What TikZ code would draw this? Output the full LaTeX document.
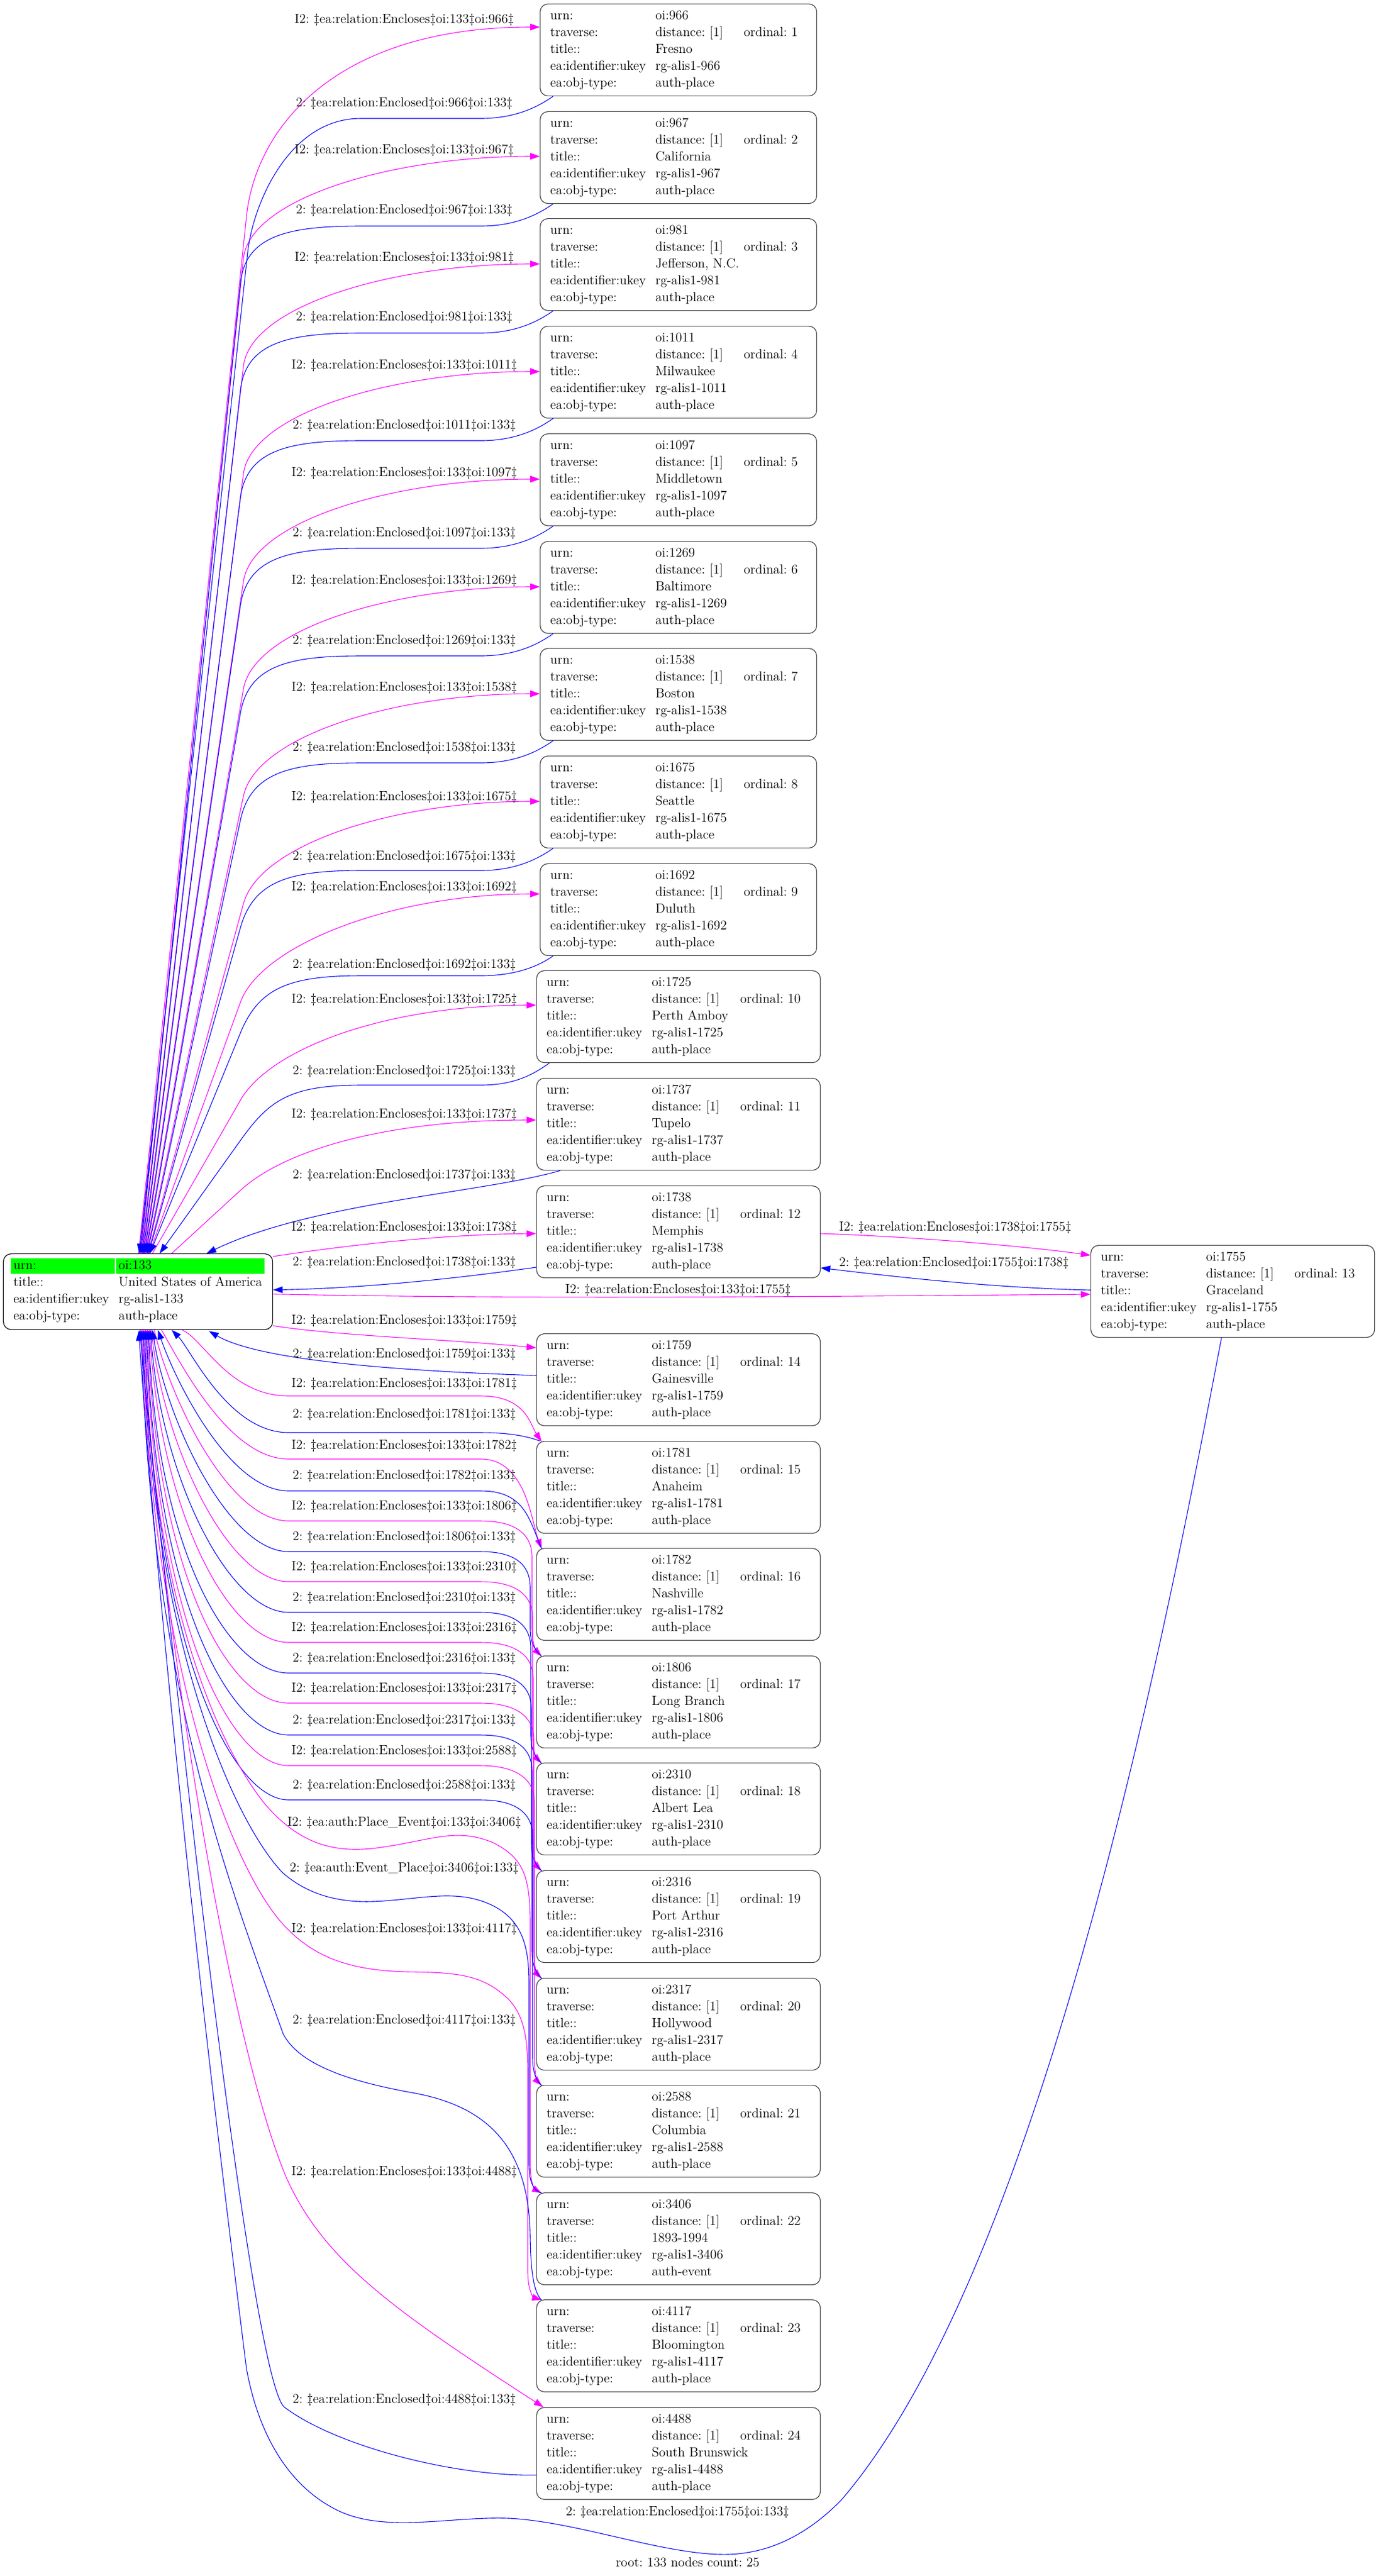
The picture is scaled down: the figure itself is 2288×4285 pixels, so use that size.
\documentclass[tikz,border=0pt]{standalone}
\usepackage{tikz}
\usetikzlibrary{arrows.meta,calc}
\definecolor{gvmag}{RGB}{255,0,255}
\definecolor{gvblue}{RGB}{0,0,255}
\definecolor{gvgreen}{RGB}{0,255,0}
\frenchspacing
\newcommand\fsz{\fontsize{11}{13}\selectfont\frenchspacing}
\newcommand\mkenc[2]{I2: \ddag ea:relation:Encloses\ddag oi:#1\ddag oi:#2\ddag}
\newcommand\mkencd[2]{2: \ddag ea:relation:Enclosed\ddag oi:#1\ddag oi:#2\ddag}
\tikzset{
 nbox/.style={draw=black!75, line width=0.6pt, rounded corners=6.5pt, inner sep=0pt, anchor=north west, minimum height=76.5pt},
 narrowbox/.style={nbox, minimum width=230pt},
 widebox/.style={nbox, minimum width=236pt},
 rootbox/.style={nbox, draw=black, minimum width=224pt, minimum height=63pt},
 txt/.style={anchor=base west, inner sep=0pt, font=\fsz},
 lbl/.style={inner sep=0pt, font=\fsz},
 mag/.style={draw=gvmag, line width=0.55pt, -{Triangle[length=8pt,width=5.5pt]}},
 blu/.style={draw=gvblue, line width=0.55pt, {Triangle[length=8pt,width=5.5pt]}-},
}
\newcommand\mkchild[9]{%
 \node[#2] (#1) at (#3,#4) {};
 \node[txt] (#1a) at ($(#1.north west)+(17,26)$) {urn:};
 \node[txt] (#1b) at ($(#1.north west)+(192,26)$) {#5};
 \node[txt] (#1c) at ($(#1.north west)+(17,54)$) {traverse:};
 \node[txt] (#1d) at ($(#1.north west)+(192,54)$) {distance: [1]};
 \node[txt] (#1e) at ($(#1.north west)+(339,54)$) {ordinal: #6};
 \node[txt] (#1f) at ($(#1.north west)+(17,82)$) {title::};
 \node[txt] (#1g) at ($(#1.north west)+(192,82)$) {#7};
 \node[txt] (#1h) at ($(#1.north west)+(17,110)$) {ea:identifier:ukey};
 \node[txt] (#1i) at ($(#1.north west)+(192,110)$) {#8};
 \node[txt] (#1j) at ($(#1.north west)+(17,138)$) {ea:obj-type:};
 \node[txt] (#1k) at ($(#1.north west)+(192,138)$) {#9};
}
% upper magenta: child, root x, knee x, knee y, arrow dy, bend dist, c2 x
\newcommand\upm[7]{%
 \coordinate (R) at ($(root.north)+(#2-229,0)$);
 \coordinate (K) at (#3,#4);
 \draw[mag] (R) -- (K) .. controls ($(K)!-#6!(R)$) and ($(#1.north west)+(#7-898,#5)$) .. ($(#1.north west)+(0,#5)$);}
% upper blue: child, root x, knee x, knee y, flat y
\newcommand\upb[5]{%
 \coordinate (R) at ($(root.north)+(#2-229,0)$);
 \coordinate (K) at (#3,#4);
 \coordinate (S) at ($(#1.south west)+(22,0)$);
 \draw[blu] (R) -- (K) .. controls ($(K)!-40pt!(R)$) and (480,#5) .. (600,#5) -- (800,#5) .. controls (860,#5) and ($(S)+(-23,16)$) .. (S);}
% lower, long descent: style, child, root x, c1x, c1y, run y, descent x
\newcommand\lowe[7]{%
 \coordinate (R) at ($(root.south)+(#3-229,0)$);
 \coordinate (C) at ($(#2.north west)+(9,1)$);
 \draw[#1] (R) .. controls (#4,#5) and (380,#6) .. (480,#6) -- (800,#6) .. controls (855,#6) and (#7,#6+20) .. (#7,#6+60) -- ($(C)+(#7-901,-46)$) .. controls ($(C)+(#7-901,-16)$) and ($(C)+(-6,-6)$) .. (C);}
% lower, short descent
\newcommand\lows[7]{%
 \coordinate (R) at ($(root.south)+(#3-229,0)$);
 \coordinate (C) at ($(#2.north west)+(9,1)$);
 \draw[#1] (R) .. controls (#4,#5) and (380,#6) .. (480,#6) -- (800,#6) .. controls (875,#6) and ($(C)+(#7-901,-45)$) .. (C);}
\begin{document}
\begin{tikzpicture}[x=0.5pt,y=-0.5pt]
\useasboundingbox (0,0) rectangle (2288,4285);
% ---------- root ----------
\node[rootbox] (root) at (5,2085) {};
\fill[gvgreen] (18,2093) rectangle (191,2119);
\fill[gvgreen] (193,2093) rectangle (440,2119);
\node[txt] (roota) at ($(root.north west)+(17,26)$) {urn:};
\node[txt] (rootb) at ($(root.north west)+(192,26)$) {oi:133};
\node[txt] (rootc) at ($(root.north west)+(17,54)$) {title::};
\node[txt] (rootd) at ($(root.north west)+(192,54)$) {United States of America};
\node[txt] (roote) at ($(root.north west)+(17,82)$) {ea:identifier:ukey};
\node[txt] (rootf) at ($(root.north west)+(192,82)$) {rg-alis1-133};
\node[txt] (rootg) at ($(root.north west)+(17,110)$) {ea:obj-type:};
\node[txt] (rooth) at ($(root.north west)+(192,110)$) {auth-place};
% ---------- children ----------
\mkchild{c966}{narrowbox}{898}{6}{oi:966}{1}{Fresno}{rg-alis1-966}{auth-place}
\mkchild{c967}{narrowbox}{898}{185}{oi:967}{2}{California}{rg-alis1-967}{auth-place}
\mkchild{c981}{narrowbox}{898}{363}{oi:981}{3}{Jefferson, N.C.}{rg-alis1-981}{auth-place}
\mkchild{c1011}{narrowbox}{898}{542}{oi:1011}{4}{Milwaukee}{rg-alis1-1011}{auth-place}
\mkchild{c1097}{narrowbox}{898}{721}{oi:1097}{5}{Middletown}{rg-alis1-1097}{auth-place}
\mkchild{c1269}{narrowbox}{898}{900}{oi:1269}{6}{Baltimore}{rg-alis1-1269}{auth-place}
\mkchild{c1538}{narrowbox}{898}{1078}{oi:1538}{7}{Boston}{rg-alis1-1538}{auth-place}
\mkchild{c1675}{narrowbox}{898}{1257}{oi:1675}{8}{Seattle}{rg-alis1-1675}{auth-place}
\mkchild{c1692}{narrowbox}{898}{1436}{oi:1692}{9}{Duluth}{rg-alis1-1692}{auth-place}
\mkchild{c1725}{widebox}{892}{1614}{oi:1725}{10}{Perth Amboy}{rg-alis1-1725}{auth-place}
\mkchild{c1737}{widebox}{892}{1793}{oi:1737}{11}{Tupelo}{rg-alis1-1737}{auth-place}
\mkchild{c1738}{widebox}{892}{1972}{oi:1738}{12}{Memphis}{rg-alis1-1738}{auth-place}
\mkchild{cG}{widebox}{1814}{2071}{oi:1755}{13}{Graceland}{rg-alis1-1755}{auth-place}
\mkchild{c1759}{widebox}{892}{2218}{oi:1759}{14}{Gainesville}{rg-alis1-1759}{auth-place}
\mkchild{c1781}{widebox}{892}{2397}{oi:1781}{15}{Anaheim}{rg-alis1-1781}{auth-place}
\mkchild{c1782}{widebox}{892}{2575}{oi:1782}{16}{Nashville}{rg-alis1-1782}{auth-place}
\mkchild{c1806}{widebox}{892}{2754}{oi:1806}{17}{Long Branch}{rg-alis1-1806}{auth-place}
\mkchild{c2310}{widebox}{892}{2932}{oi:2310}{18}{Albert Lea}{rg-alis1-2310}{auth-place}
\mkchild{c2316}{widebox}{892}{3111}{oi:2316}{19}{Port Arthur}{rg-alis1-2316}{auth-place}
\mkchild{c2317}{widebox}{892}{3290}{oi:2317}{20}{Hollywood}{rg-alis1-2317}{auth-place}
\mkchild{c2588}{widebox}{892}{3468}{oi:2588}{21}{Columbia}{rg-alis1-2588}{auth-place}
\mkchild{c3406}{widebox}{892}{3647}{oi:3406}{22}{1893-1994}{rg-alis1-3406}{auth-event}
\mkchild{c4117}{widebox}{892}{3825}{oi:4117}{23}{Bloomington}{rg-alis1-4117}{auth-place}
\mkchild{c4488}{widebox}{892}{4004}{oi:4488}{24}{South Brunswick}{rg-alis1-4488}{auth-place}
% ---------- upper edges ----------
\upm{c966}{230}{410}{360}{39}{75pt}{560}
\upm{c967}{232.2}{405}{430}{75}{50pt}{650}
\upm{c981}{234.4}{405}{609}{76}{50pt}{650}
\upm{c1011}{236.6}{405}{788}{76}{50pt}{650}
\upm{c1097}{238.8}{405}{967}{76}{50pt}{650}
\upm{c1269}{241}{405}{1146}{76}{50pt}{650}
\upm{c1538}{243.2}{405}{1324}{76}{50pt}{650}
\upm{c1675}{245.4}{405}{1503}{76}{50pt}{650}
\upm{c1692}{247.6}{400}{1667}{51}{50pt}{650}
\upm{c1725}{253}{400}{1830}{58}{50pt}{650}
\upm{c1737}{285}{400}{1980}{70}{50pt}{650}
\upb{c966}{231.1}{412}{420}{197}
\upb{c967}{233.3}{400}{471}{376}
\upb{c981}{235.5}{400}{649}{554}
\upb{c1011}{237.7}{400}{828}{733}
\upb{c1097}{239.9}{400}{1007}{912}
\upb{c1269}{242.1}{400}{1186}{1091}
\upb{c1538}{244.3}{400}{1364}{1269}
\upb{c1675}{246.5}{400}{1543}{1448}
\upb{c1692}{248.7}{400}{1718}{1623}
\upb{c1725}{265}{400}{1897}{1805}
\draw[blu] ($(root.north)+(114,0)$) .. controls (520,2000) and (800,1985) .. ($(c1737.south west)+(40,0)$);
% ---------- 1738 / 1755 ----------
\draw[mag] ($(root.north east)+(0,5)$) .. controls (600,2068) and (750,2053) .. ($(c1738.north west)+(0,80)$);
\draw[blu] ($(root.east)+(0,-3)$) .. controls (600,2143) and (750,2128) .. ($(c1738.north west)+(0,136)$);
\draw[mag] ($(root.east)+(0,4)$) .. controls (900,2162) and (1400,2156) .. ($(cG.north west)+(0,82)$);
\draw[mag] ($(c1738.north east)+(0,80)$) .. controls (1500,2056) and (1700,2072) .. ($(cG.north west)+(0,17)$);
\draw[blu] ($(c1738.north east)+(0,137)$) .. controls (1500,2125) and (1650,2142) .. ($(cG.north west)+(0,75)$);
\draw[blu] ($(root.south)+(1,2)$) .. controls (280,2900) and (380,3700) .. (410,3940) .. controls (430,4050) and (480,4135) .. (560,4175) .. controls (640,4215) and (750,4185) .. (848,4189) .. controls (960,4195) and (1100,4248) .. (1201,4249) .. controls (1260,4250) and (1330,4230) .. (1400,4158) .. controls (1750,3750) and (1960,2600) .. ($(cG.south west)+(218,0)$);
% ---------- 1759 / 1781 ----------
\draw[mag] ($(root.south east)+(0,-7)$) .. controls (560,2222) and (750,2228) .. ($(c1759.north west)+(0,24)$);
\draw[blu] ($(root.south)+(118,2)$) .. controls (430,2262) and (650,2280) .. ($(c1759.north west)+(0,70)$);
\coordinate (C) at ($(c1781.north west)+(9,1)$);
\draw[mag] ($(root.south)+(73,0)$) .. controls (337,2225) and (380,2322) .. (480,2322) -- (800,2322) .. controls (875,2322) and (882,2370) .. (C);
\draw[blu] ($(root.south)+(56,0)$) .. controls (317,2244) and (380,2383) .. (480,2383) -- (800,2383) .. controls (850,2383) and (880,2390) .. ($(c1781.north west)+(6,0)$);
% ---------- lower edges ----------
\lows{mag}{c1782}{268}{298}{2263}{2427}{884}
\lows{blu}{c1782}{262}{290}{2292}{2480}{881}
\lowe{mag}{c1806}{256}{282}{2324}{2530}{885}
\lowe{blu}{c1806}{253}{277}{2363}{2581}{882}
\lowe{mag}{c2310}{251}{272}{2407}{2631}{886}
\lowe{blu}{c2310}{249.5}{268.6}{2457}{2682}{883}
\lowe{mag}{c2316}{248}{265}{2513}{2732}{887}
\lowe{blu}{c2316}{246.5}{261}{2575}{2783}{884}
\lowe{mag}{c2317}{245}{259}{2615}{2833}{888}
\lowe{blu}{c2317}{243.5}{257.5}{2650}{2886}{885}
\lowe{mag}{c2588}{242}{256}{2683}{2937}{889}
\lowe{blu}{c2588}{240.5}{254.5}{2720}{2994}{886}
\coordinate (C) at ($(c3406.north west)+(9,1)$);
\draw[mag] ($(root.south)+(10,0)$) .. controls (250,2650) and (360,2900) .. (440,3000) .. controls (500,3070) and (560,3085) .. (640,3072) .. controls (720,3060) and (760,3040) .. (820,3065) .. controls (870,3090) and (882,3120) .. (882,3200) -- (882,3600) .. controls (882,3630) and (890,3642) .. (C);
\draw[blu] ($(root.south)+(8.5,0)$) .. controls (250,2700) and (380,3020) .. (470,3115) .. controls (510,3150) and (560,3165) .. (620,3163) .. controls (700,3160) and (760,3140) .. (820,3170) .. controls (870,3195) and (880,3240) .. (880,3300) -- (880,3600) .. controls (880,3630) and (888,3645) .. (C);
\coordinate (C) at ($(c4117.north west)+(9,1)$);
\draw[mag] ($(root.south)+(7,0)$) .. controls (250,2750) and (380,3100) .. (470,3200) .. controls (520,3255) and (580,3278) .. (680,3280) .. controls (760,3281) and (800,3285) .. (840,3320) .. controls (875,3350) and (878,3400) .. (878,3450) -- (878,3780) .. controls (878,3810) and (888,3822) .. (C);
\draw[blu] ($(root.south)+(5.5,0)$) .. controls (250,2800) and (380,3130) .. (471,3383) .. controls (500,3440) and (600,3465) .. (680,3480) .. controls (800,3500) and (880,3560) .. (882,3720) .. controls (883,3790) and (890,3815) .. (C);
\draw[mag] ($(root.south)+(4,0)$) .. controls (270,2700) and (380,3400) .. (478,3626) .. controls (540,3760) and (650,3840) .. ($(c4488.north west)+(12,0)$);
\draw[blu] ($(root.south)+(2.5,0)$) .. controls (300,2900) and (420,3960) .. (473,4004) .. controls (560,4070) and (760,4120) .. ($(c4488.north west)+(0,113)$);
% ---------- labels ----------
\node[lbl] (l966a) at (672.5,33) {\mkenc{133}{966}};
\node[lbl] (l966b) at (672.5,172) {\mkencd{966}{133}};
\node[lbl] (l967a) at (672.5,250) {\mkenc{133}{967}};
\node[lbl] (l967b) at (672.5,350) {\mkencd{967}{133}};
\node[lbl] (l981a) at (672.5,429) {\mkenc{133}{981}};
\node[lbl] (l981b) at (672.5,528) {\mkencd{981}{133}};
\node[lbl] (l1011a) at (672.5,608) {\mkenc{133}{1011}};
\node[lbl] (l1011b) at (672.5,708) {\mkencd{1011}{133}};
\node[lbl] (l1097a) at (672.5,787) {\mkenc{133}{1097}};
\node[lbl] (l1097b) at (672.5,887) {\mkencd{1097}{133}};
\node[lbl] (l1269a) at (672.5,966) {\mkenc{133}{1269}};
\node[lbl] (l1269b) at (672.5,1066) {\mkencd{1269}{133}};
\node[lbl] (l1538a) at (672.5,1144) {\mkenc{133}{1538}};
\node[lbl] (l1538b) at (672.5,1244) {\mkencd{1538}{133}};
\node[lbl] (l1675a) at (672.5,1326) {\mkenc{133}{1675}};
\node[lbl] (l1675b) at (672.5,1425) {\mkencd{1675}{133}};
\node[lbl] (l1692a) at (672.5,1476) {\mkenc{133}{1692}};
\node[lbl] (l1692b) at (672.5,1605) {\mkencd{1692}{133}};
\node[lbl] (l1725a) at (672.5,1663) {\mkenc{133}{1725}};
\node[lbl] (l1725b) at (672.5,1782) {\mkencd{1725}{133}};
\node[lbl] (l1737a) at (672.5,1854) {\mkenc{133}{1737}};
\node[lbl] (l1737b) at (672.5,1955) {\mkencd{1737}{133}};
\node[lbl] (l1738a) at (672.5,2042) {\mkenc{133}{1738}};
\node[lbl] (l1738b) at (672.5,2100) {\mkencd{1738}{133}};
\node[lbl] (l1759a) at (672.5,2197) {\mkenc{133}{1759}};
\node[lbl] (l1759b) at (672.5,2253) {\mkencd{1759}{133}};
\node[lbl] (l1781a) at (672.5,2302) {\mkenc{133}{1781}};
\node[lbl] (l1781b) at (672.5,2353) {\mkencd{1781}{133}};
\node[lbl] (l1782a) at (672.5,2405) {\mkenc{133}{1782}};
\node[lbl] (l1782b) at (672.5,2455) {\mkencd{1782}{133}};
\node[lbl] (l1806a) at (672.5,2506) {\mkenc{133}{1806}};
\node[lbl] (l1806b) at (672.5,2557) {\mkencd{1806}{133}};
\node[lbl] (l2310a) at (672.5,2607) {\mkenc{133}{2310}};
\node[lbl] (l2310b) at (672.5,2658) {\mkencd{2310}{133}};
\node[lbl] (l2316a) at (672.5,2708) {\mkenc{133}{2316}};
\node[lbl] (l2316b) at (672.5,2759) {\mkencd{2316}{133}};
\node[lbl] (l2317a) at (672.5,2809) {\mkenc{133}{2317}};
\node[lbl] (l2317b) at (672.5,2862) {\mkencd{2317}{133}};
\node[lbl] (l2588a) at (672.5,2913) {\mkenc{133}{2588}};
\node[lbl] (l2588b) at (672.5,2970) {\mkencd{2588}{133}};
\node[lbl] (l3406a) at (672.5,3032) {I2: \ddag ea:auth:Place\_Event\ddag oi:133\ddag oi:3406\ddag};
\node[lbl] (l3406b) at (672.5,3108) {2: \ddag ea:auth:Event\_Place\ddag oi:3406\ddag oi:133\ddag};
\node[lbl] (l4117a) at (672.5,3209) {\mkenc{133}{4117}};
\node[lbl] (l4117b) at (672.5,3361) {\mkencd{4117}{133}};
\node[lbl] (l4488a) at (672.5,3613) {\mkenc{133}{4488}};
\node[lbl] (l4488b) at (672.5,3992) {\mkencd{4488}{133}};
\node[lbl] (lG1) at (1589,2042) {\mkenc{1738}{1755}};
\node[lbl] (lG2) at (1587,2101) {\mkencd{1755}{1738}};
\node[lbl] (lG3) at (1128,2146) {\mkenc{133}{1755}};
\node[lbl] (lG4) at (1127,4179) {\mkencd{1755}{133}};
\node[lbl] (foot) at (1144,4262) {root: 133 nodes count: 25};
\end{tikzpicture}
\end{document}
